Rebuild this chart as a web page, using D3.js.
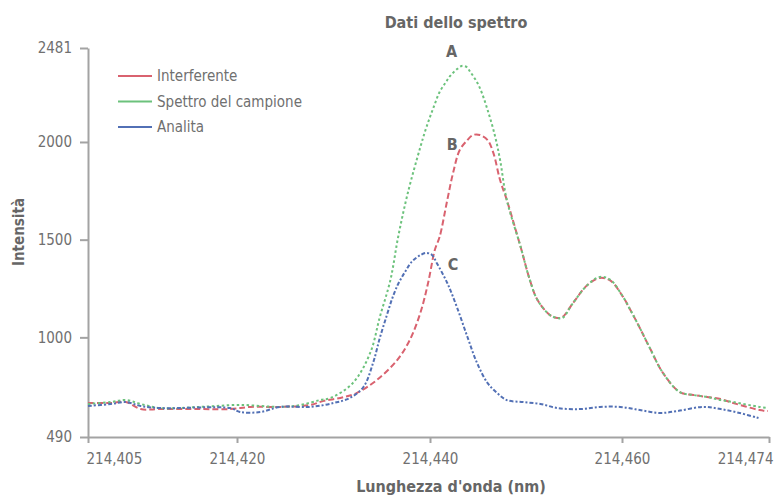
<!DOCTYPE html>
<html>
<head>
<meta charset="utf-8">
<script src="https://cdn.jsdelivr.net/npm/d3@7"></script>
<style>
  body { margin: 0; background: #fff; }
  svg text { font-family: "Liberation Sans Narrow", "DejaVu Sans Condensed", sans-serif; fill: #707070; }
  .axis path, .axis line { stroke: #a3a3a3; stroke-width: 2; }
  .axis text { font-size: 15px; }
  .bold { font-weight: bold; fill: #666; }
</style>
</head>
<body>
<svg id="chart"></svg>
<script>
// series names and tick values
const seriesNames = ['Interferente', 'Spettro del campione', 'Analita'];
const xTicks = [214.405, 214.420, 214.440, 214.460, 214.474];
const yTicks = [490, 1000, 1500, 2000, 2481];

// Interferente (B)
const interfX = [214.4050, 214.4073, 214.4088, 214.4103, 214.4123, 214.4163, 214.4193, 214.4214, 214.4245, 214.4276, 214.4290,
  214.4307, 214.4324, 214.4345, 214.4366, 214.4379, 214.4390, 214.4398, 214.4405, 214.4410, 214.4418, 214.4424, 214.4431,
  214.4439, 214.4445, 214.4452, 214.4460, 214.4466, 214.4473, 214.4480, 214.4494, 214.4504, 214.4512, 214.4525, 214.4533,
  214.4538, 214.4549, 214.4564, 214.4577, 214.4588, 214.4601, 214.4608, 214.4617, 214.4627, 214.4639, 214.4655, 214.4668,
  214.4681, 214.4694, 214.4706, 214.4731, 214.4739];
const interfY = [664, 664, 669, 633, 633, 633, 633, 644, 644, 654, 675,
  690, 715, 782, 884, 986, 1125, 1278, 1447, 1514, 1703, 1841, 1959,
  2010, 2036, 2036, 2010, 1944, 1805, 1703, 1470, 1294, 1191, 1114, 1099,
  1104, 1176, 1268, 1304, 1290, 1207, 1140, 1048, 940, 818, 720, 705,
  695, 684, 664, 628, 623];

// Spettro del campione (A)
const sampleX = [214.4050, 214.4073, 214.4088, 214.4103, 214.4123, 214.4163, 214.4203, 214.4245, 214.4266, 214.4286, 214.4297,
  214.4320, 214.4338, 214.4348, 214.4359, 214.4367, 214.4377, 214.4390, 214.4395, 214.4400, 214.4405, 214.4410, 214.4416,
  214.4421, 214.4427, 214.4433, 214.4438, 214.4442, 214.4447, 214.4452, 214.4460, 214.4468, 214.4473, 214.4480, 214.4494,
  214.4504, 214.4512, 214.4525, 214.4533, 214.4538, 214.4549, 214.4564, 214.4577, 214.4588, 214.4601, 214.4608, 214.4617,
  214.4627, 214.4639, 214.4655, 214.4668, 214.4681, 214.4694, 214.4706, 214.4731, 214.4739];
const sampleY = [659, 669, 679, 659, 638, 644, 654, 644, 654, 679, 690,
  766, 920, 1104, 1294, 1514, 1739, 1974, 2056, 2128, 2194, 2256, 2302,
  2338, 2368, 2389, 2384, 2358, 2322, 2276, 2164, 2025, 1908, 1703, 1470,
  1294, 1191, 1114, 1099, 1099, 1176, 1268, 1309, 1294, 1207, 1140, 1048,
  940, 818, 720, 705, 695, 679, 669, 644, 639];

// Analita (C)
const analyteX = [214.4050, 214.4073, 214.4088, 214.4103, 214.4123, 214.4193, 214.4203, 214.4224, 214.4245, 214.4276, 214.4300,
  214.4317, 214.4331, 214.4341, 214.4348, 214.4355, 214.4361, 214.4367, 214.4374, 214.4381, 214.4390, 214.4396, 214.4402,
  214.4407, 214.4418, 214.4428, 214.4439, 214.4449, 214.4460, 214.4470, 214.4480, 214.4497, 214.4515, 214.4533, 214.4557,
  214.4577, 214.4598, 214.4617, 214.4636, 214.4653, 214.4677, 214.4694, 214.4712, 214.4730];
const analyteY = [649, 659, 669, 649, 638, 638, 618, 618, 644, 644, 664,
  690, 746, 869, 997, 1109, 1201, 1273, 1334, 1386, 1421, 1432, 1422,
  1381, 1278, 1155, 1002, 869, 766, 715, 679, 669, 659, 638, 633,
  644, 644, 628, 613, 623, 644, 633, 613, 587];

const series = [
  {name: seriesNames[0], color: '#d9626f', dash: '6,3', label: 'B', xs: interfX, ys: interfY},
  {name: seriesNames[1], color: '#6cc27c', dash: '2.5,2.5', label: 'A', xs: sampleX, ys: sampleY},
  {name: seriesNames[2], color: '#5270b5', dash: '4,2,2,2', label: 'C', xs: analyteX, ys: analyteY}
];

const margin = {top: 48, left: 88};
const width = 681;
const height = 389;

const svg = d3.select('#chart')
  .attr('width', 775)
  .attr('height', 497);

const g = svg.append('g')
  .attr('transform', 'translate(' + margin.left + ',' + margin.top + ')');

// the printed ticks are not evenly spaced, so the scale is piecewise
const x = d3.scaleLinear()
  .domain(xTicks)
  .range([0, 149, 342, 534, width]);

const y = d3.scaleLinear()
  .domain([490, 2481])
  .range([height, 0]);

const fmt = d => d.toFixed(3).replace('.', ',');

g.append('g')
  .attr('class', 'axis')
  .attr('transform', 'translate(0,' + height + ')')
  .call(d3.axisBottom(x).tickValues(xTicks).tickFormat(fmt).tickSize(6).tickPadding(10).tickSizeOuter(0))
  .selectAll('text')
  .attr('text-anchor', (d, i) => i === 0 ? 'start' : (i === xTicks.length - 1 ? 'end' : 'middle'))
  .attr('dx', (d, i) => i === 0 ? -2 : (i === xTicks.length - 1 ? 4 : 0));

g.append('g')
  .attr('class', 'axis')
  .call(d3.axisLeft(y).tickValues(yTicks).tickFormat(d3.format('d')).tickSize(8).tickPadding(8).tickSizeOuter(0));

/* lines */
const line = d3.line()
  .x(d => x(d[0]))
  .y(d => y(d[1]))
  .curve(d3.curveCatmullRom.alpha(0.5));

series.forEach(s => {
  const pts = s.xs.map((v, i) => [v, s.ys[i]]);
  g.append('path')
    .datum(pts)
    .attr('fill', 'none')
    .attr('stroke', s.color)
    .attr('stroke-width', 2)
    .attr('stroke-dasharray', s.dash)
    .attr('d', line);
  s.peak = pts.reduce((a, b) => b[1] > a[1] ? b : a);
});

/* peak letters */
const offsets = {A: [-10, -9], B: [-21, 15], C: [27, 17]};
series.forEach(s => {
  g.append('text')
    .attr('class', 'bold')
    .attr('x', x(s.peak[0]) + offsets[s.label][0])
    .attr('y', y(s.peak[1]) + offsets[s.label][1])
    .attr('text-anchor', 'middle')
    .style('font-size', '16px')
    .text(s.label);
});

/* legend */
const legend = svg.selectAll('.legend')
  .data(series)
  .enter().append('g')
  .attr('transform', (d, i) => 'translate(118,' + (76 + i * 25.5) + ')');

legend.append('line')
  .attr('x1', 0).attr('x2', 34)
  .attr('stroke', d => d.color)
  .attr('stroke-width', 2);

legend.append('text')
  .attr('x', 39)
  .attr('y', 5)
  .style('font-size', '15px')
  .text(d => d.name);

/* titles */
svg.append('text')
  .attr('class', 'bold')
  .attr('x', 456).attr('y', 28)
  .attr('text-anchor', 'middle')
  .style('font-size', '16px')
  .text('Dati dello spettro');

svg.append('text')
  .attr('class', 'bold')
  .attr('x', 451).attr('y', 492)
  .attr('text-anchor', 'middle')
  .style('font-size', '16px')
  .text("Lunghezza d'onda (nm)");

svg.append('text')
  .attr('class', 'bold')
  .attr('transform', 'translate(24,232) rotate(-90)')
  .attr('text-anchor', 'middle')
  .style('font-size', '15px')
  .text('Intensità');
</script>
</body>
</html>
